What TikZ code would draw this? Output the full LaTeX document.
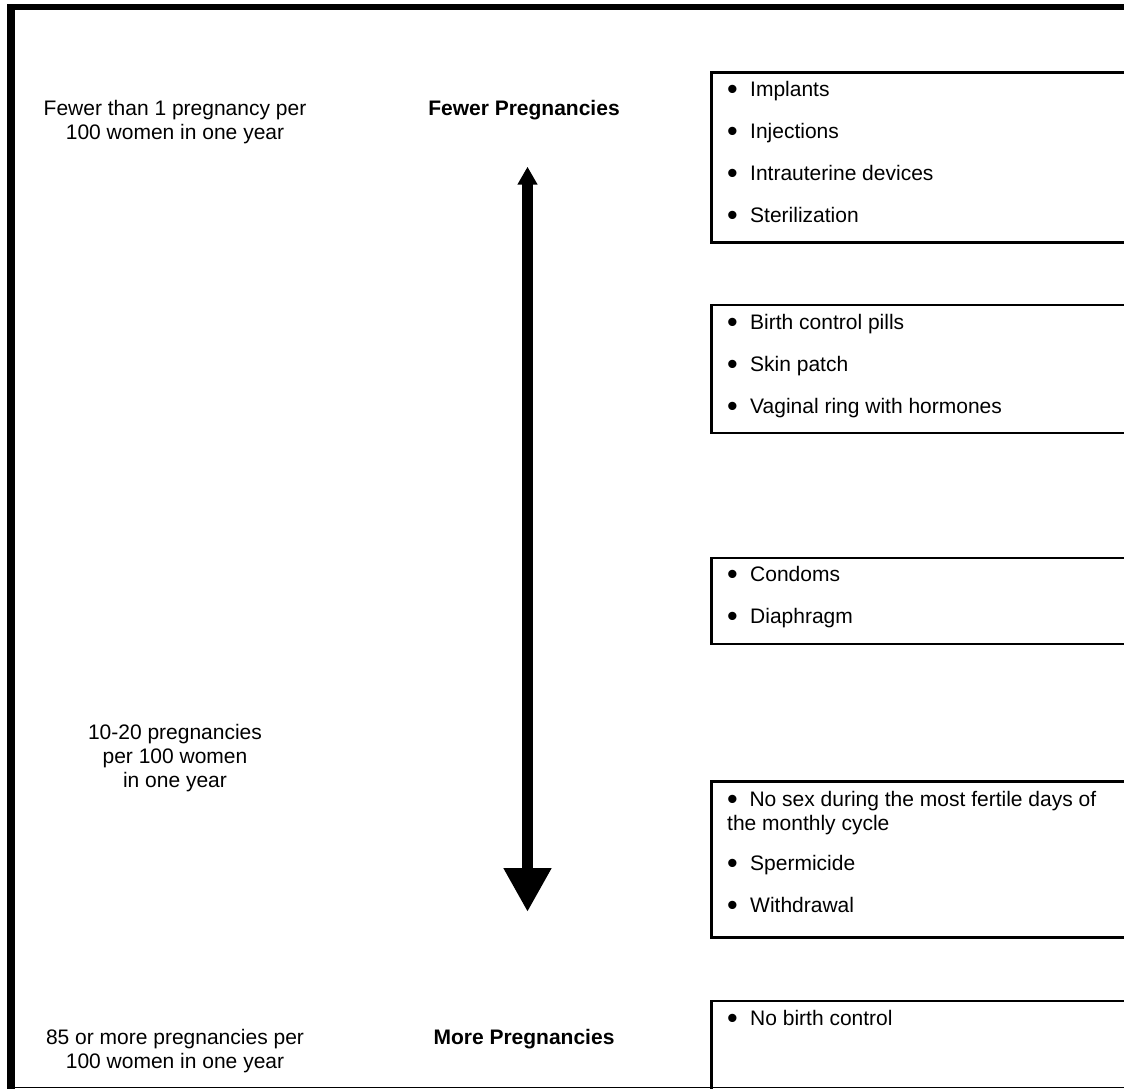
\documentclass[tikz,border=0pt]{standalone}
\usepackage{fontspec}
\setmainfont{Liberation Sans}
\usetikzlibrary{arrows.meta, positioning}
\tikzstyle{methodbox} = [draw, line width=2.7pt, rectangle, anchor=north west,
	minimum width=440pt, inner sep=0pt, outer sep=0pt]
\tikzstyle{itemlist} = [anchor=north west, align=left, inner sep=0pt,
	font=\fontsize{21}{24}\selectfont]
\tikzstyle{rate} = [anchor=north, align=center, inner sep=0pt,
	font=\fontsize{21}{24}\selectfont]
\tikzstyle{level} = [anchor=north, inner sep=0pt,
	font=\fontsize{21}{24}\selectfont\bfseries]
\tikzstyle{ratescale} = [draw, line width=11.7pt,
	{Triangle[length=18pt,width=19pt]}-{Triangle[length=44pt,width=45pt]}]
\newcommand{\dotmark}{\raisebox{-3.3pt}{\scalebox{1.45}{\textbullet}}}
\newcommand{\itm}{\makebox[23pt][l]{\dotmark}}

\begin{document}
\begin{tikzpicture}[x=1pt, y=-1pt]
		\useasboundingbox (0,0) rectangle (1124,1089);
		% frame
		\draw [line width=8pt] (11,1092) -- (11,4);
		\draw [line width=6pt] (7,7) -- (1130,7);
		\draw [line width=1.5pt] (11,1087.5) -- (1130,1087.5);

		% method boxes
		\node [methodbox, minimum height=170pt] (box1) at (711.5,72.7) {};
		\node [methodbox, minimum height=128pt] (box2) at (711.5,305) {};
		\node [methodbox, minimum height=86pt] (box3) at (711.5,558) {};
		\node [methodbox, minimum height=156pt] (box4) at (711.5,781.7) {};
		\node [methodbox, minimum height=120pt] (box5) at (711.5,1001) {};

		\node [itemlist, below right=8pt and 15.5pt of box1.north west] (list1)
			{\itm Implants\\[18pt] \itm Injections\\[18pt]
			 \itm Intrauterine devices\\[18pt] \itm Sterilization};
		\node [itemlist, below right=8.7pt and 15.5pt of box2.north west] (list2)
			{\itm Birth control pills\\[18pt] \itm Skin patch\\[18pt]
			 \itm Vaginal ring with hormones};
		\node [itemlist, below right=7.7pt and 15.5pt of box3.north west] (list3)
			{\itm Condoms\\[18pt] \itm Diaphragm};
		\node [itemlist, below right=9pt and 15.5pt of box4.north west] (list4)
			{\dotmark\ \ No sex during the most fertile days of\\
			 the monthly cycle\\[16pt] \itm Spermicide\\[18pt] \itm Withdrawal};
		\node [itemlist, below right=8.7pt and 15.5pt of box5.north west] (list5)
			{\itm No birth control};

		% rates and scale
		\node [rate] (rlow) at (175,99.7) {Fewer than 1 pregnancy per\\100 women in one year};
		\node [rate] (rmid) at (175,723.7) {10-20 pregnancies\\per 100 women\\in one year};
		\node [rate] (rhigh) at (175,1028.7) {85 or more pregnancies per\\100 women in one year};
		\node [level] (fewer) at (524,99.7) {Fewer Pregnancies};
		\node [level] (more) at (524,1028.7) {More Pregnancies};

		\coordinate (up) at (527.5,166.7);
		\coordinate (down) at (527.5,912);
		\path [ratescale] (up) -- (down);
	\end{tikzpicture}
\end{document}
